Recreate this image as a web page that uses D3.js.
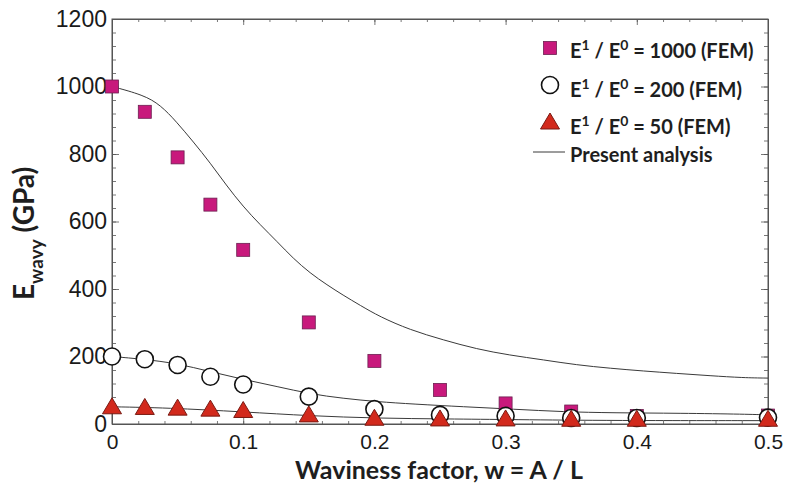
<!DOCTYPE html>
<html>
<head>
<meta charset="utf-8">
<script src="https://cdn.jsdelivr.net/npm/d3@7"></script>
<style>
  html, body { margin: 0; padding: 0; background: #fff; }
  svg { display: block; }
</style>
</head>
<body>
<svg id="chart" width="785" height="485"></svg>
<script>
// ---- data ----
const waviness = [0, 0.025, 0.05, 0.075, 0.1, 0.15, 0.2, 0.25, 0.3, 0.35, 0.4, 0.5];
const fem1000 = [1000, 925, 790, 650, 516, 301, 187, 101, 61, 37, 24, 25];
const fem200  = [200, 192, 175, 140, 117, 81, 44, 27, 24, 18, 18, 19];
const fem50   = [54, 52, 50, 47, 43, 30, 20, 18, 18, 17, 17, 17];

const analysisW1000 = [0, 0.024, 0.037, 0.049, 0.062, 0.075, 0.087, 0.1, 0.113, 0.126, 0.138, 0.151, 0.164, 0.176, 0.189, 0.204, 0.227, 0.2525, 0.278, 0.303, 0.329, 0.354, 0.38, 0.405, 0.43, 0.456, 0.481, 0.5];
const analysis1000  = [1000, 975, 945, 896, 836, 773, 708, 644, 590, 540, 491, 447, 412, 382, 352, 318, 279, 249, 222, 204, 190, 175, 165, 157, 150, 143, 137, 136];
const analysisW200  = [0, 0.024, 0.049, 0.075, 0.1, 0.126, 0.151, 0.176, 0.202, 0.23, 0.268, 0.306, 0.344, 0.382, 0.433, 0.484, 0.5];
const analysis200   = [200, 192, 180, 155, 132, 111, 89, 76, 66, 59, 51, 44, 36, 33, 32, 29, 27];
const analysisW50   = [0, 0.042, 0.1, 0.151, 0.202, 0.255, 0.306, 0.382, 0.5];
const analysis50    = [51, 48, 36, 24, 17, 15, 13, 10, 10];

const xTicks = [0, 0.1, 0.2, 0.3, 0.4, 0.5];
const xTickLabels = ["0", "0.1", "0.2", "0.3", "0.4", "0.5"];
const yTicks = [0, 200, 400, 600, 800, 1000, 1200];
const yTickLabels = ["0", "200", "400", "600", "800", "1000", "1200"];

const legendLabels = [
  {sup1: "1", sup0: "0", rest: " = 1000 (FEM)"},
  {sup1: "1", sup0: "0", rest: " = 200 (FEM)"},
  {sup1: "1", sup0: "0", rest: " = 50 (FEM)"}
];
const legendLineLabel = "Present analysis";
const xTitle = "Waviness factor, w = A / L";

// ---- layout ----
const svg = d3.select("#chart");
const L = 112, R = 768, T = 19, B = 424;
const x = d3.scaleLinear().domain([0, 0.5]).range([L, R]);
const y = d3.scaleLinear().domain([0, 1200]).range([B, T]);

const axisColor = "#555";
const tickFont = "'Liberation Sans', Arial, sans-serif";
const boldFont = "Lato, 'Open Sans', sans-serif";

const xMinor = d3.range(0, 0.5001, 0.02);
const yMinor = d3.range(0, 1200.1, 40);

function styleAxis(g) {
  g.select(".domain").attr("stroke", axisColor).attr("stroke-width", 1);
  g.selectAll(".tick line").attr("stroke", axisColor).attr("stroke-width", 0.8);
}

// frame
svg.append("rect").attr("x", L).attr("y", T).attr("width", R - L).attr("height", B - T)
  .attr("fill", "none").attr("stroke", axisColor).attr("stroke-width", 1);

// minor ticks
[["bottom", B], ["top", T]].forEach(([side, pos]) => {
  const ax = side === "bottom" ? d3.axisBottom(x) : d3.axisTop(x);
  svg.append("g").attr("transform", `translate(0,${pos})`)
    .call(ax.tickValues(xMinor).tickSize(-3).tickFormat(""))
    .call(styleAxis).call(g => g.select(".domain").remove());
});
[["left", L], ["right", R]].forEach(([side, pos]) => {
  const ax = side === "left" ? d3.axisLeft(y) : d3.axisRight(y);
  svg.append("g").attr("transform", `translate(${pos},0)`)
    .call(ax.tickValues(yMinor).tickSize(-4).tickFormat(""))
    .call(styleAxis).call(g => g.select(".domain").remove());
});

// major ticks with labels
const xAxis = svg.append("g").attr("transform", `translate(0,${B})`)
  .call(d3.axisBottom(x).tickValues(xTicks).tickSize(-6).tickPadding(10)
    .tickFormat((d, i) => xTickLabels[i]))
  .call(styleAxis);
xAxis.selectAll("text").attr("font-family", tickFont).attr("font-size", 21).attr("fill", "#1a1a1a");

svg.append("g").attr("transform", `translate(0,${T})`)
  .call(d3.axisTop(x).tickValues(xTicks).tickSize(-6).tickFormat(""))
  .call(styleAxis);

const yAxis = svg.append("g").attr("transform", `translate(${L},0)`)
  .call(d3.axisLeft(y).tickValues(yTicks).tickSize(-7).tickPadding(5)
    .tickFormat((d, i) => yTickLabels[i]))
  .call(styleAxis);
yAxis.selectAll("text").attr("font-family", tickFont).attr("font-size", 23).attr("fill", "#1a1a1a");

svg.append("g").attr("transform", `translate(${R},0)`)
  .call(d3.axisRight(y).tickValues(yTicks).tickSize(-7).tickFormat(""))
  .call(styleAxis);

// ---- analysis curves ----
const line = d3.line().x(d => x(d[0])).y(d => y(d[1])).curve(d3.curveBasis);
[[analysisW1000, analysis1000], [analysisW200, analysis200], [analysisW50, analysis50]].forEach(([ws, vs]) => {
  svg.append("path").datum(ws.map((w, i) => [w, vs[i]]))
    .attr("d", line).attr("fill", "none").attr("stroke", "#3a3a3a").attr("stroke-width", 1);
});

// ---- markers ----
const sq = 13;
const sqFill = "#c8197c", sqStroke = "#6b2050";
const triFill = "#d2291c", triStroke = "#7a1a12";
const triW = 19, triH = 16;
function triPath(cx, cy) {
  return `M${cx},${cy - triH / 2}L${cx + triW / 2},${cy + triH / 2}L${cx - triW / 2},${cy + triH / 2}Z`;
}

svg.append("g").selectAll("rect").data(waviness).join("rect")
  .attr("x", (d) => x(d) - sq / 2).attr("y", (d, i) => y(fem1000[i]) - sq / 2)
  .attr("width", sq).attr("height", sq)
  .attr("fill", sqFill).attr("stroke", sqStroke).attr("stroke-width", 0.8);

svg.append("g").selectAll("circle").data(waviness).join("circle")
  .attr("cx", d => x(d)).attr("cy", (d, i) => y(fem200[i])).attr("r", 8.5)
  .attr("fill", "#fff").attr("stroke", "#111").attr("stroke-width", 1.6);

svg.append("g").selectAll("path").data(waviness).join("path")
  .attr("d", (d, i) => triPath(x(d), y(fem50[i])))
  .attr("fill", triFill).attr("stroke", triStroke).attr("stroke-width", 1);

// ---- legend ----
const lg = svg.append("g");
const legX = 550, textX = 570;
const rowBase = [58, 97, 134];
const rowMark = [48, 85, 121];
lg.append("rect").attr("x", legX - sq / 2).attr("y", rowMark[0] - sq / 2).attr("width", sq).attr("height", sq)
  .attr("fill", sqFill).attr("stroke", sqStroke).attr("stroke-width", 0.8);
lg.append("circle").attr("cx", legX).attr("cy", rowMark[1]).attr("r", 8.5)
  .attr("fill", "#fff").attr("stroke", "#111").attr("stroke-width", 1.6);
lg.append("path").attr("d", triPath(legX, rowMark[2]))
  .attr("fill", triFill).attr("stroke", triStroke).attr("stroke-width", 1);
lg.append("line").attr("x1", 533).attr("x2", 565).attr("y1", 152).attr("y2", 152)
  .attr("stroke", "#3a3a3a").attr("stroke-width", 1);

legendLabels.forEach((lab, i) => {
  const t = lg.append("text").attr("x", textX).attr("y", rowBase[i])
    .attr("font-family", boldFont).attr("font-weight", 700).attr("font-size", 20).attr("fill", "#1e1e1e");
  t.append("tspan").text("E");
  t.append("tspan").attr("font-size", 14).attr("dy", -8).text(lab.sup1);
  t.append("tspan").attr("dy", 8).text(" / E");
  t.append("tspan").attr("font-size", 14).attr("dy", -8).text(lab.sup0);
  t.append("tspan").attr("dy", 8).text(lab.rest);
});
lg.append("text").attr("x", textX).attr("y", 162)
  .attr("font-family", boldFont).attr("font-weight", 700).attr("font-size", 20).attr("fill", "#1e1e1e")
  .text(legendLineLabel);

// ---- axis titles ----
svg.append("text").attr("x", 439).attr("y", 479).attr("text-anchor", "middle")
  .attr("font-family", boldFont).attr("font-weight", 700).attr("font-size", 25).attr("fill", "#1e1e1e")
  .text(xTitle);

const yt = svg.append("text").attr("transform", "translate(34,300) rotate(-90)")
  .attr("font-family", boldFont).attr("font-weight", 700).attr("font-size", 28).attr("fill", "#1e1e1e");
yt.append("tspan").text("E");
yt.append("tspan").attr("font-size", 19).attr("dy", 9).text("wavy");
yt.append("tspan").attr("dy", -9).text(" (GPa)");
</script>
</body>
</html>
